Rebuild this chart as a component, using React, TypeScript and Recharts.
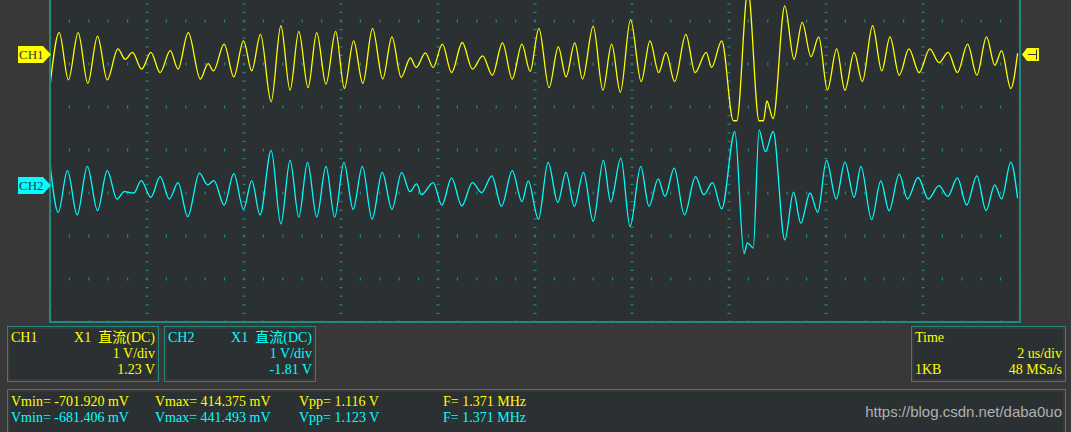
import React from "react";
import { LineChart, Line, XAxis, YAxis, ReferenceLine } from "recharts";

// time in us (2 us/div, 10 div), volts relative to channel offset
const ch1Time = [
  0, 0.19, 0.38, 0.58, 0.78, 0.98, 1.18, 1.4, 1.55, 1.7,
  1.89, 2.08, 2.27, 2.48, 2.64, 2.85, 3.1, 3.26, 3.37, 3.59,
  3.79, 3.99, 4.16, 4.34, 4.56, 4.76, 4.95, 5.13, 5.32, 5.5,
  5.69, 5.89, 6.07, 6.26, 6.45, 6.65, 6.86, 7.05, 7.24, 7.43,
  7.55, 7.74, 7.9, 8.09, 8.28, 8.5, 8.71, 8.92, 9.12, 9.33,
  9.53, 9.73, 9.9, 10.08, 10.29, 10.48, 10.64, 10.82, 10.98, 11.2,
  11.4, 11.58, 11.76, 11.97, 12.19, 12.37, 12.55, 12.7, 12.88, 13.11,
  13.3, 13.53, 13.64, 13.85, 14.09, 14.16, 14.39, 14.62, 14.71, 14.78, 14.91, 15.15,
  15.34, 15.51, 15.69, 15.85, 16.03, 16.22, 16.39, 16.58, 16.75, 16.96,
  17.15, 17.32, 17.51, 17.71, 17.92, 18.14, 18.33, 18.52, 18.71, 18.92,
  19.11, 19.31, 19.48, 19.62, 19.81, 19.95,
];
const ch1Volt = [
  -0.74, 0.5, -0.6, 0.5, -0.68, 0.42, -0.6, 0.12, -0.12, 0.04,
  -0.35, 0.04, -0.43, 0.08, -0.35, 0.5, -0.58, -0.22, -0.39, 0.23,
  -0.53, 0.31, -0.39, 0.46, -1.11, 0.66, -0.84, 0.53, -0.78, 0.5,
  -0.7, 0.53, -0.8, 0.31, -0.68, 0.6, -0.58, 0.4, -0.54, -0.09,
  -0.31, 0.03, -0.31, 0.23, -0.43, 0.27, -0.35, -0.04, -0.49, 0.26,
  -0.58, 0.23, -0.4, 0.6, -0.78, 0.17, -0.53, 0.26, -0.58, 0.65,
  -0.84, 0.23, -0.89, 0.8, -0.64, 0.31, -0.43, 0.04, -0.64, 0.46,
  -0.43, 0.04, -0.31, 0.31, -1.55, -1.55, 1.49, -1.55, -1.55, -1.09, -1.5, 1.12,
  -0.12, 0.74, -0.06, 0.4, -0.83, 0.12, -0.84, 0.04, -0.64, 0.66,
  -0.39, 0.4, -0.49, 0.12, -0.43, 0.12, -0.2, 0.04, -0.43, 0.23,
  -0.49, 0.4, -0.26, 0.08, -0.8, 0.02,
];
const ch2Time = [
  0, 0.17, 0.36, 0.56, 0.77, 0.98, 1.18, 1.38, 1.53, 1.73,
  1.88, 2.08, 2.27, 2.46, 2.64, 2.84, 3.08, 3.25, 3.38, 3.59,
  3.79, 3.99, 4.16, 4.33, 4.56, 4.76, 4.95, 5.13, 5.31, 5.5,
  5.69, 5.87, 6.06, 6.25, 6.44, 6.64, 6.85, 7.05, 7.25, 7.42,
  7.56, 7.66, 7.9, 8.08, 8.28, 8.49, 8.71, 8.9, 9.11, 9.31,
  9.53, 9.73, 9.86, 10.07, 10.27, 10.47, 10.64, 10.81, 11.0, 11.2,
  11.41, 11.56, 11.77, 11.96, 12.18, 12.35, 12.54, 12.68, 12.87, 13.08,
  13.31, 13.48, 13.66, 13.85, 14.12, 14.31, 14.38, 14.5, 14.62, 14.75,
  14.91, 15.15, 15.33, 15.48, 15.67, 15.83, 16.01, 16.21, 16.39, 16.58,
  16.72, 16.94, 17.13, 17.3, 17.51, 17.68, 17.9, 18.11, 18.33, 18.51,
  18.71, 18.9, 19.11, 19.3, 19.48, 19.62, 19.81, 19.95,
];
const ch2Volt = [
  0.49, -0.64, 0.33, -0.7, 0.43, -0.6, 0.33, -0.33, -0.16, -0.19,
  0.1, -0.29, 0.19, -0.33, 0.05, -0.74, 0.27, 0.0, 0.1, -0.47,
  0.26, -0.57, 0.1, -0.7, 0.8, -0.91, 0.57, -0.75, 0.52, -0.75,
  0.43, -0.75, 0.52, -0.57, 0.43, -0.8, 0.29, -0.57, 0.29, -0.16,
  0.02, -0.23, 0.05, -0.47, 0.16, -0.49, 0.05, -0.18, 0.21, -0.5,
  0.33, -0.39, 0.09, -0.8, 0.52, -0.41, 0.29, -0.5, 0.29, -0.85,
  0.57, -0.4, 0.62, -0.97, 0.43, -0.5, 0.14, -0.27, 0.39, -0.7,
  0.19, -0.23, 0.05, -0.56, 1.24, -1.6, -1.35, -1.47, 1.28, 0.77,
  1.24, -1.28, -0.17, -0.89, -0.19, -0.64, 0.57, -0.33, 0.53, -0.29,
  0.43, -0.81, 0.09, -0.6, 0.25, -0.33, 0.17, -0.33, -0.02, -0.27,
  0.16, -0.47, 0.21, -0.6, 0.0, -0.33, 0.53, -0.31,
];

const ch1Offset = 1.23;
const ch2Offset = -1.81;
const timeTicks = [0, 2, 4, 6, 8, 10, 12, 14, 16, 18, 20];
const voltTicks = [-5, -4, -3, -2, -1, 0, 1, 2, 3, 4, 5];

const ch1Info = ["CH1", "X1  直流(DC)", "1 V/div", "1.23 V"];
const ch2Info = ["CH2", "X1  直流(DC)", "1 V/div", "-1.81 V"];
const timeInfo = ["Time", "2 us/div", "1KB", "48 MSa/s"];
const ch1Meas = ["Vmin= -701.920 mV", "Vmax= 414.375 mV", "Vpp= 1.116 V", "F= 1.371 MHz"];
const ch2Meas = ["Vmin= -681.406 mV", "Vmax= 441.493 mV", "Vpp= 1.123 V", "F= 1.371 MHz"];
const measCols = [11, 155, 299, 443];

const YELLOW = "#ffff00";
const CYAN = "#00ffff";
const TEAL = "#23897d";
const GRID = "#1f8a79";
const PANEL = "#2b3133";
const OUTER = "#383838";
const FONT = '"Liberation Serif", "Times New Roman", "Noto Sans CJK SC", serif';

const ch1Data = ch1Time.map((t, i) => ({ t, v: ch1Offset + ch1Volt[i] }));
const ch2Data = ch2Time.map((t, i) => ({ t, v: ch2Offset + ch2Volt[i] }));

function Txt({ x, y, color, right, children }: any) {
  const pos: any = right ? { right: 1071 - x } : { left: x };
  return (
    <div
      style={{
        position: "absolute",
        top: y,
        ...pos,
        color,
        fontFamily: FONT,
        fontSize: 14,
        lineHeight: "16px",
        whiteSpace: "pre",
      }}
    >
      {children}
    </div>
  );
}

function Box({ x, y, w, h }: any) {
  return (
    <div
      style={{
        position: "absolute",
        left: x,
        top: y,
        width: w,
        height: h,
        boxSizing: "border-box",
        border: `1px solid ${TEAL}`,
        padding: 2,
      }}
    >
      <div style={{ width: "100%", height: "100%", background: PANEL }} />
    </div>
  );
}

export default function App() {
  return (
    <div
      style={{
        position: "fixed",
        left: 0,
        top: 0,
        width: 1071,
        height: 432,
        background: OUTER,
        overflow: "hidden",
      }}
    >
      <div style={{ position: "absolute", left: 50, top: -108, background: PANEL }}>
        <LineChart width={970} height={430} margin={{ top: 0, right: 0, bottom: 0, left: 0 }}>
          <XAxis
            dataKey="t"
            type="number"
            domain={[0, 20]}
            ticks={timeTicks}
            allowDataOverflow
            hide
          />
          <YAxis
            type="number"
            domain={[-5, 5]}
            ticks={voltTicks}
            allowDataOverflow
            hide
          />
          {/* dotted graticule: short dashes every 1/5 division */}
          {timeTicks.map((t) => (
            <ReferenceLine
              key={"gx" + t}
              x={t}
              stroke={GRID}
              strokeWidth={3}
              strokeDasharray="1.2 7.4"
              strokeDashoffset={0.6}
              ifOverflow="visible"
            />
          ))}
          {voltTicks.map((v) => (
            <ReferenceLine
              key={"gy" + v}
              y={v}
              stroke={GRID}
              strokeWidth={3}
              strokeDasharray="1.2 18.2"
              strokeDashoffset={0.6}
              ifOverflow="visible"
            />
          ))}
          <Line
            data={ch1Data}
            dataKey="v"
            type="monotone"
            stroke={YELLOW}
            strokeWidth={1.3}
            dot={false}
            isAnimationActive={false}
          />
          <Line
            data={ch2Data}
            dataKey="v"
            type="monotone"
            stroke={CYAN}
            strokeWidth={1.3}
            dot={false}
            isAnimationActive={false}
          />
        </LineChart>
      </div>

      {/* screen frame */}
      <div
        style={{
          position: "absolute",
          left: 49,
          top: -109,
          width: 972,
          height: 432,
          boxSizing: "border-box",
          border: `2px solid ${TEAL}`,
        }}
      />

      {/* channel tags and trigger marker */}
      <svg width={1071} height={432} style={{ position: "absolute", left: 0, top: 0 }}>
        <polygon points="18,46 43,46 51,54.5 43,63 18,63" fill={YELLOW} />
        <text x={19} y={59} fontFamily={FONT} fontSize={13} fill="#3a3a2a">CH1</text>
        <polygon points="18,177 43,177 51,185.5 43,194 18,194" fill={CYAN} />
        <text x={19} y={190} fontFamily={FONT} fontSize={13} fill="#2a3a3a">CH2</text>
        <polygon points="1022,54.5 1027,48 1039,48 1039,61 1027,61" fill={YELLOW} />
        <line x1={1028} y1={54.5} x2={1037} y2={54.5} stroke="#333" strokeWidth={1} />
        <line x1={1036.5} y1={49.5} x2={1036.5} y2={59.5} stroke="#333" strokeWidth={1} />
      </svg>

      {/* channel boxes */}
      <Box x={7} y={326} w={152} h={56} />
      <Txt x={11} y={330} color={YELLOW}>{ch1Info[0]}</Txt>
      <Txt x={155} y={330} color={YELLOW} right>{ch1Info[1]}</Txt>
      <Txt x={155} y={346} color={YELLOW} right>{ch1Info[2]}</Txt>
      <Txt x={155} y={362} color={YELLOW} right>{ch1Info[3]}</Txt>

      <Box x={164} y={326} w={152} h={56} />
      <Txt x={168} y={330} color={CYAN}>{ch2Info[0]}</Txt>
      <Txt x={312} y={330} color={CYAN} right>{ch2Info[1]}</Txt>
      <Txt x={312} y={346} color={CYAN} right>{ch2Info[2]}</Txt>
      <Txt x={312} y={362} color={CYAN} right>{ch2Info[3]}</Txt>

      <Box x={911} y={326} w={155} h={56} />
      <Txt x={915} y={330} color={YELLOW}>{timeInfo[0]}</Txt>
      <Txt x={1062} y={346} color={YELLOW} right>{timeInfo[1]}</Txt>
      <Txt x={915} y={362} color={YELLOW}>{timeInfo[2]}</Txt>
      <Txt x={1062} y={362} color={YELLOW} right>{timeInfo[3]}</Txt>

      {/* measurements */}
      <Box x={7} y={389} w={1059} h={50} />
      {ch1Meas.map((s, i) => (
        <Txt key={"a" + i} x={measCols[i]} y={394} color={YELLOW}>{s}</Txt>
      ))}
      {ch2Meas.map((s, i) => (
        <Txt key={"b" + i} x={measCols[i]} y={410} color={CYAN}>{s}</Txt>
      ))}
      <div
        style={{
          position: "absolute",
          right: 1071 - 1062,
          top: 403,
          color: "#b0b0b0",
          fontFamily: '"Liberation Sans", Arial, sans-serif',
          fontSize: 15,
          lineHeight: "18px",
        }}
      >
        https://blog.csdn.net/daba0uo
      </div>
    </div>
  );
}
